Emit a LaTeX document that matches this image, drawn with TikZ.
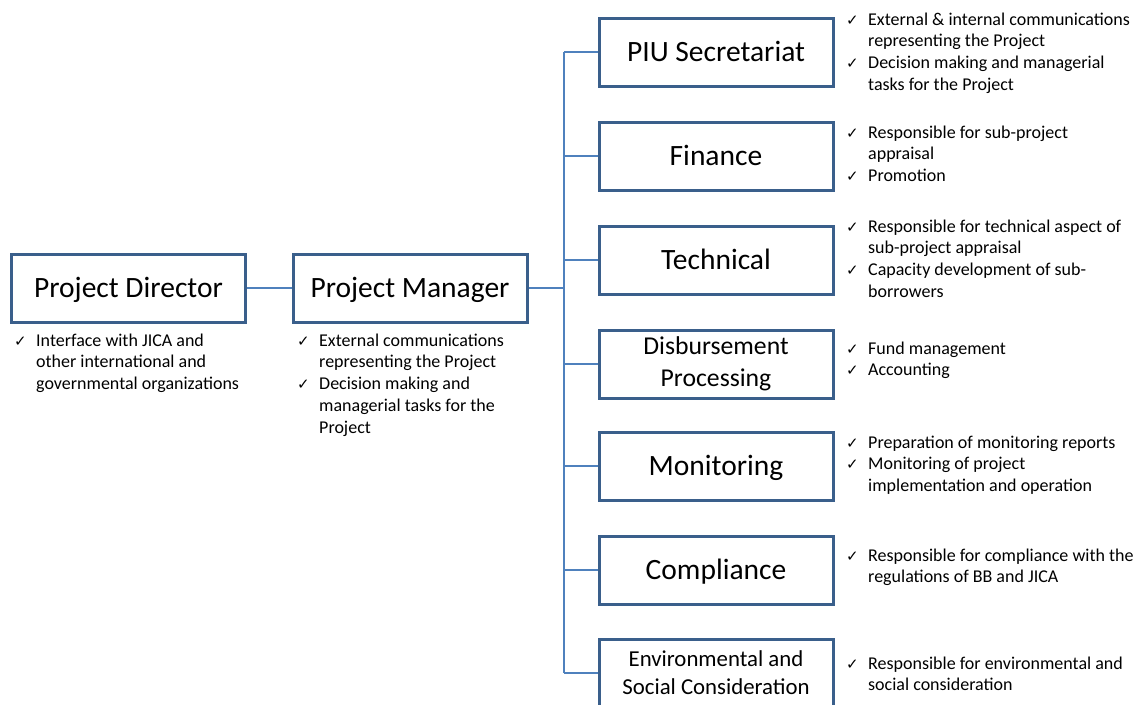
\documentclass[tikz,border=0pt]{standalone}
\usepackage{fontspec}
\setmainfont{Carlito}
\newfontfamily\symfont{DejaVu Sans}
\definecolor{boxc}{HTML}{3A5F8B}
\definecolor{linkc}{HTML}{4F81BD}
\newcommand{\chk}{{\symfont\fontsize{15}{15}\selectfont ✓}}
\newcommand{\blist}[1]{\fontsize{18}{21.8}\selectfont\begin{tabular}[t]{@{}p{22pt}@{}l@{}}#1\end{tabular}}
\begin{document}
\begin{tikzpicture}[x=1pt,y=-1pt,
  box/.style={draw=boxc, line width=3pt, minimum width=234pt, minimum height=68pt, inner sep=0pt, align=center, font=\fontsize{29.5}{36}\selectfont},
  one/.style={text height=20pt, text depth=2pt},
  link/.style={draw=linkc, line width=2.5pt},
  bl/.style={anchor=base west, inner sep=0pt}]
\fill[white] (0,0) rectangle (1140,704);
\useasboundingbox (0,0) rectangle (1140,704);
\clip (0,0) rectangle (1140,704);
% left boxes
\node[box, one] (pd) at (128.5,288) {Project Director};
\node[box, one] (pm) at (410,288) {Project Manager};
% right boxes
\node[box, one] (piu) at (716,52) {PIU Secretariat};
\node[box, one] (fin) at (716,156) {Finance};
\node[box, one] (tec) at (716,260) {Technical};
\node[box, font=\fontsize{25.7}{31.5}\selectfont] (dis) at (716,364) {Disbursement\\Processing};
\node[box, one] (mon) at (716,466) {Monitoring};
\node[box, one] (com) at (716,570) {Compliance};
\node[box, font=\fontsize{22.8}{28}\selectfont] (env) at (716,673) {Environmental and\\Social Consideration};
% connectors
\coordinate (bus) at (564,288);
\draw[link] (pd.east) -- (pm.west);
\draw[link] (pm.east) -- (bus);
\draw[link] (bus |- piu.west) -- (bus |- env.west);
\foreach \b in {piu,fin,tec,dis,mon,com,env}{
  \draw[link] (bus |- \b.west) -- (\b.west);
}
% bullet lists
\node[bl] (pdl) at (14,346) {\blist{\chk & Interface with JICA and\\ & other international and\\ & governmental organizations}};
\node[bl] (pml) at (297,346) {\blist{\chk & External communications\\ & representing the Project\\ \chk & Decision making and\\ & managerial tasks for the\\ & Project}};
\node[bl] (piul) at (846,25) {\blist{\chk & External \& internal communications\\ & representing the Project\\ \chk & Decision making and managerial\\ & tasks for the Project}};
\node[bl] (finl) at (846,138) {\blist{\chk & Responsible for sub-project\\ & appraisal\\ \chk & Promotion}};
\node[bl] (tecl) at (846,232) {\blist{\chk & Responsible for technical aspect of\\ & sub-project appraisal\\ \chk & Capacity development of sub-\\ & borrowers}};
\node[bl] (disl) at (846,354) {\blist{\chk & Fund management\\ \chk & Accounting}};
\node[bl] (monl) at (846,448) {\blist{\chk & Preparation of monitoring reports\\ \chk & Monitoring of project\\ & implementation and operation}};
\node[bl] (coml) at (846,561) {\blist{\chk & Responsible for compliance with the\\ & regulations of BB and JICA}};
\node[bl] (envl) at (846,669) {\blist{\chk & Responsible for environmental and\\ & social consideration}};
\end{tikzpicture}
\end{document}
